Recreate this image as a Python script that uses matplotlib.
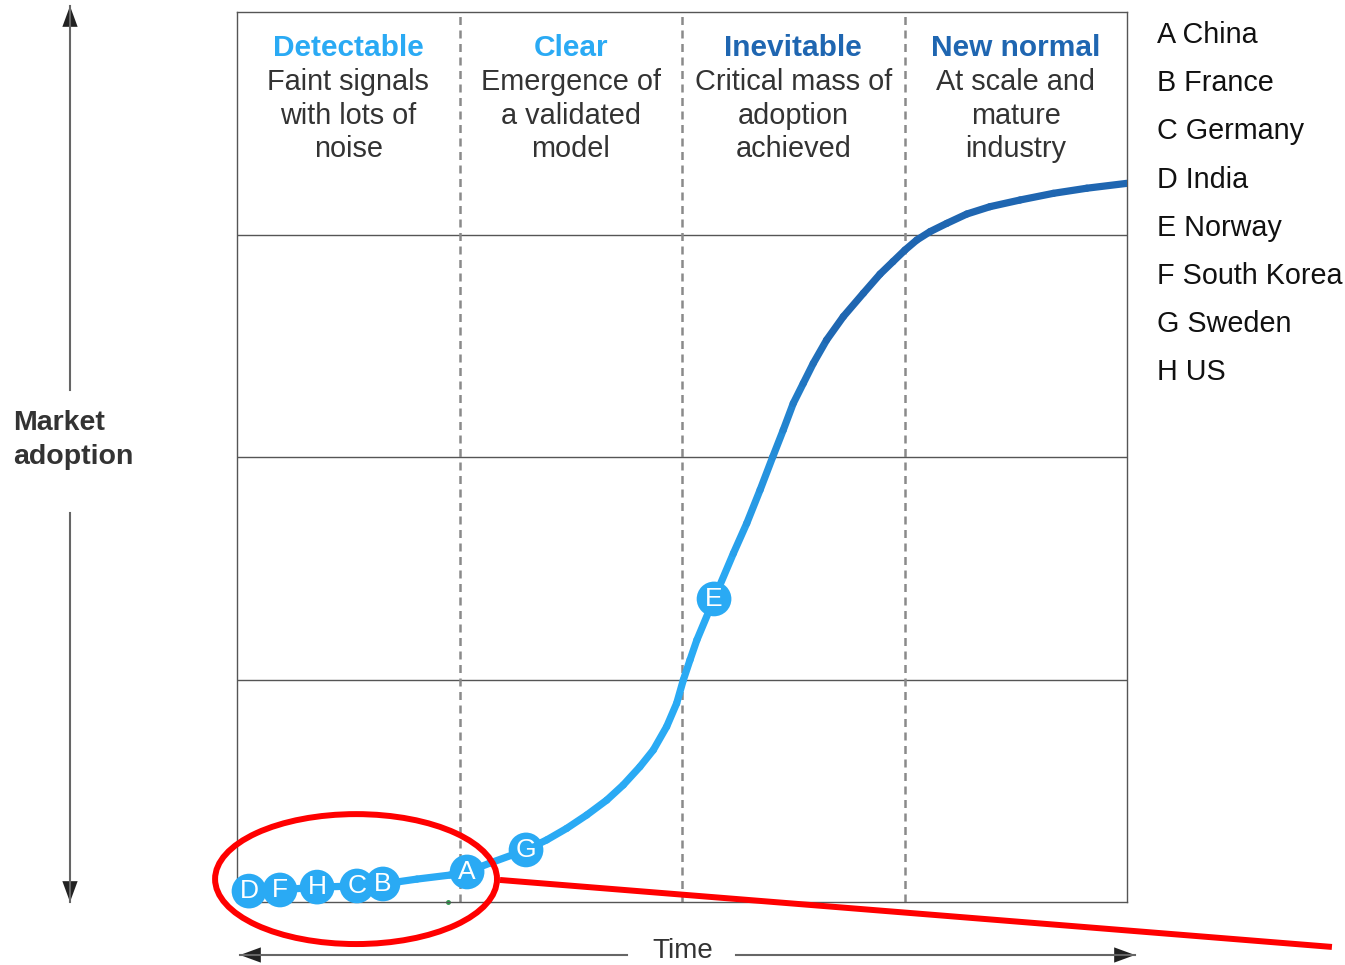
import matplotlib
matplotlib.use("Agg")
import matplotlib.pyplot as plt
import numpy as np
from matplotlib.collections import LineCollection
from matplotlib.colors import LinearSegmentedColormap, Normalize
from matplotlib.patches import Ellipse

plt.rcParams["font.family"] = ["Liberation Sans", "DejaVu Sans"]

W, H = 1345, 965
LIGHT = "#2aaaf4"
DARK = "#1f66b1"
TEXT = "#333333"

STAGES = ["Detectable", "Clear", "Inevitable", "New normal"]
STAGE_NOTES = [
    ["Faint signals", "with lots of", "noise"],
    ["Emergence of", "a validated", "model"],
    ["Critical mass of", "adoption", "achieved"],
    ["At scale and", "mature", "industry"],
]
COUNTRIES = ["A China", "B France", "C Germany", "D India",
             "E Norway", "F South Korea", "G Sweden", "H US"]

# adoption curve (x: stage units 0-4, y: grid rows 0-4)
CURVE_X = [0.054, 0.193, 0.360, 0.539, 0.656, 0.809, 0.957, 1.034, 1.137, 1.299,
           1.392, 1.482, 1.572, 1.662, 1.736, 1.811, 1.871, 1.931, 1.976, 2.006,
           2.036, 2.067, 2.144, 2.231, 2.291, 2.351, 2.408, 2.455, 2.500, 2.545,
           2.590, 2.650, 2.725, 2.815, 2.890, 2.948, 3.002, 3.055, 3.115, 3.190,
           3.280, 3.384, 3.519, 3.669, 3.819, 4.000]
CURVE_Y = [0.049, 0.054, 0.067, 0.072, 0.081, 0.103, 0.121, 0.135, 0.175, 0.234,
           0.279, 0.331, 0.391, 0.458, 0.526, 0.608, 0.683, 0.788, 0.893, 0.998,
           1.088, 1.178, 1.362, 1.567, 1.702, 1.852, 2.001, 2.121, 2.241, 2.331,
           2.421, 2.526, 2.631, 2.736, 2.822, 2.878, 2.930, 2.975, 3.013, 3.050,
           3.092, 3.125, 3.155, 3.185, 3.208, 3.230]

MARKER_LABELS = ["D", "F", "H", "C", "B", "A", "G", "E"]
MARKER_X = [0.054, 0.193, 0.360, 0.539, 0.656, 1.034, 1.299, 2.144]
MARKER_Y = [0.049, 0.054, 0.067, 0.072, 0.081, 0.135, 0.234, 1.362]


def fx(px):
    return px / W


def fy(py):
    return 1 - py / H


fig = plt.figure(figsize=(W / 100, H / 100), dpi=100)
ax = fig.add_axes([fx(237), fy(902), 890 / W, 890 / H])
ax.set_xlim(0, 4); ax.set_ylim(0, 4)
ax.set_xticks([]); ax.set_yticks([])
for s in ax.spines.values():
    s.set_color("#555555"); s.set_linewidth(1.0)

for yv in (1, 2, 3):
    ax.axhline(yv, color="#555555", lw=1.0, zorder=1)
for xv in (1, 2, 3):
    ax.axvline(xv, color="#8a8a8a", lw=1.8, ls=(0, (3.2, 2.2)), zorder=1)

# stage headers
for i, (stage, notes) in enumerate(zip(STAGES, STAGE_NOTES)):
    cx = i + 0.5
    ax.text(cx, (902 - 56) / 222.5, stage, ha="center", va="baseline", fontsize=21.5,
            fontweight="bold", color=LIGHT if i < 2 else DARK)
    for j, line in enumerate(notes):
        ax.text(cx, (902 - 90 - 33.5 * j) / 222.5, line, ha="center", va="baseline",
                fontsize=20.8, color=TEXT)

# curve with light->dark gradient
pts = np.column_stack([CURVE_X, CURVE_Y])
segs = np.stack([pts[:-1], pts[1:]], axis=1)
cmap = LinearSegmentedColormap.from_list("adopt", [LIGHT, "#2590dc", DARK])
norm = Normalize(vmin=1.4, vmax=2.6, clip=True)
mid_y = (pts[:-1, 1] + pts[1:, 1]) / 2
lc = LineCollection(segs, colors=cmap(norm(mid_y)), linewidths=5.2, capstyle="round",
                    joinstyle="round", zorder=3)
ax.add_collection(lc)

ax.scatter(MARKER_X, MARKER_Y, s=25 ** 2, color=LIGHT, edgecolor="none", zorder=4,
           clip_on=False)
for lab, x, y in zip(MARKER_LABELS, MARKER_X, MARKER_Y):
    ax.text(x, y, lab, ha="center", va="center", fontsize=19, color="white", zorder=5)

# small green dot on the baseline
ax.plot([0.948], [0.0], marker="o", ms=2.5, color="#2a9a4a", clip_on=False, zorder=2)

# red highlight
ax.add_patch(Ellipse((0.535, 0.103), 1.267, 0.584, fill=False, edgecolor="#ff0000",
                     lw=4.3, clip_on=False, zorder=6))
ax.plot([1.182, 4.921], [0.099, -0.202], color="#ff0000", lw=4.3, clip_on=False,
        zorder=6, solid_capstyle="butt")

# legend of countries
for k, name in enumerate(COUNTRIES):
    fig.text(fx(1157), fy(43 + 48.2 * k), name, ha="left", va="baseline", fontsize=20.7,
             color="#111111")


def arrow(x0, y0, x1, y1):
    fig.add_artist(plt.Line2D([fx(x0), fx(x1)], [fy(y0), fy(y1)], color="#666666",
                              lw=1.5, transform=fig.transFigure))
    ax.annotate("", xy=(fx(x1), fy(y1)), xycoords="figure fraction",
                xytext=(fx(x1 + (x0 - x1) * 0.06), fy(y1 + (y0 - y1) * 0.06)),
                textcoords="figure fraction",
                arrowprops=dict(arrowstyle="-|>,head_length=1.5,head_width=0.55",
                                color="#222222", lw=0, shrinkA=0, shrinkB=0,
                                mutation_scale=10))


# market adoption axis
arrow(70, 390, 70, 6)
arrow(70, 513, 70, 902)
fig.text(fx(13), fy(440), "Market\nadoption", ha="left", va="center", fontsize=20.5,
         fontweight="bold", color=TEXT, linespacing=1.4)

# time axis
arrow(627, 955, 240, 955)
arrow(736, 955, 1135, 955)
fig.text(fx(683), fy(951), "Time", ha="center", va="center", fontsize=20, color=TEXT)

fig.savefig("out.png", dpi=100)
